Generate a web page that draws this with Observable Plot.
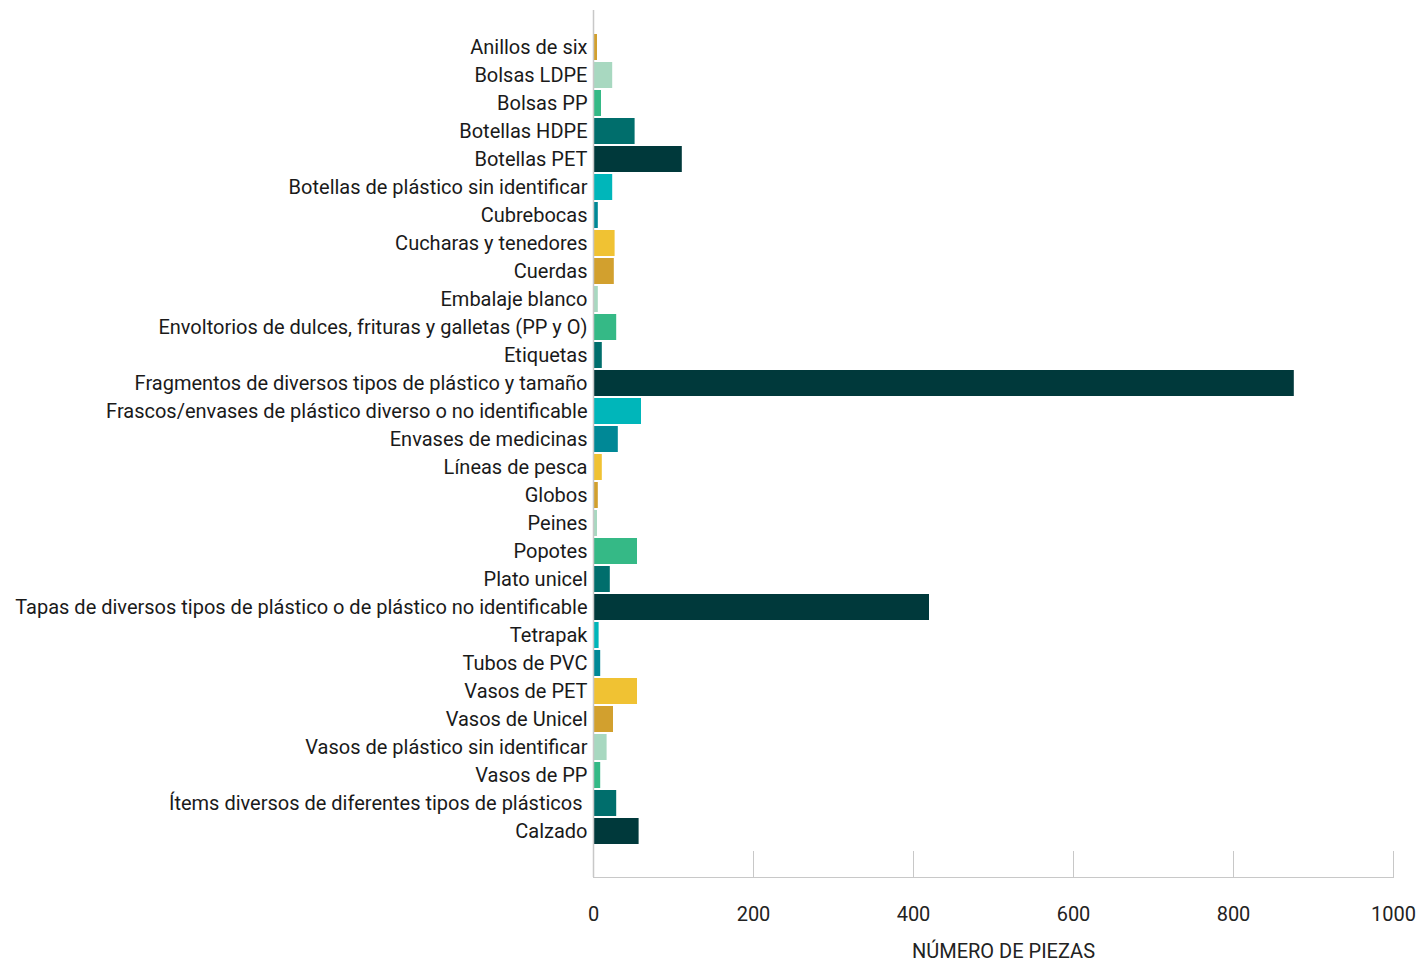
<!DOCTYPE html>
<html><head><meta charset="utf-8">
<script src="https://cdn.jsdelivr.net/npm/d3@7"></script>
<script src="https://cdn.jsdelivr.net/npm/@observablehq/plot@0.6"></script>
<style>body{margin:0;background:#fff;}</style>
</head><body><div id="chart"></div>
<script>
const categories = [
  "Anillos de six",
  "Bolsas LDPE",
  "Bolsas PP",
  "Botellas HDPE",
  "Botellas PET",
  "Botellas de plástico sin identificar",
  "Cubrebocas",
  "Cucharas y tenedores",
  "Cuerdas",
  "Embalaje blanco",
  "Envoltorios de dulces, frituras y galletas (PP y O)",
  "Etiquetas",
  "Fragmentos de diversos tipos de plástico y tamaño",
  "Frascos/envases de plástico diverso o no identificable",
  "Envases de medicinas",
  "Líneas de pesca",
  "Globos",
  "Peines",
  "Popotes",
  "Plato unicel",
  "Tapas de diversos tipos de plástico o de plástico no identificable",
  "Tetrapak",
  "Tubos de PVC",
  "Vasos de PET",
  "Vasos de Unicel",
  "Vasos de plástico sin identificar",
  "Vasos de PP",
  "Ítems diversos de diferentes tipos de plásticos\u00a0",
  "Calzado"
];
const values = [5, 24, 10, 52, 111, 24, 6, 27, 26, 6, 29, 11, 876, 60, 31, 11, 6, 5, 55, 21, 420, 7, 9, 55, 25, 17, 9, 29, 57];
const palette = ["#D2A02E", "#A8D8C0", "#35B986", "#006E6C", "#00393B", "#00B6BA", "#008896", "#F0C233"];
const xTicks = [0, 200, 400, 600, 800, 1000];
const xTitle = "NÚMERO DE PIEZAS";

const data = categories.map((c, i) => ({category: c, value: values[i]}));
const colorRange = categories.map((c, i) => palette[i % palette.length]);

const chart = Plot.plot({
  width: 1424, height: 962,
  marginLeft: 593, marginRight: 31, marginTop: 10, marginBottom: 85,
  style: {fontFamily: "Roboto", background: "#fff"},
  x: {domain: [0, 1000]},
  y: {domain: categories, range: [32, 845], paddingInner: 0.08, paddingOuter: 0},
  color: {domain: categories, range: colorRange},
  marks: [
    Plot.barX(data, {y: "category", x: "value", fill: "category"}),
    Plot.ruleX([0], {stroke: "#c8c8c8", strokeWidth: 1.5}),
    Plot.frame({anchor: "bottom", stroke: "#c8c8c8"}),
    Plot.axisX({ticks: xTicks.slice(1), tickSize: 26, dy: -26, text: null, stroke: "#c8c8c8", label: null}),
    Plot.axisX({ticks: xTicks, tickSize: 0, tickPadding: 29, fontSize: 20, fill: "#222", tickFormat: d3.format("d"), label: null}),
    Plot.text([xTitle], {text: d => d, frameAnchor: "bottom", lineAnchor: "middle", dy: 74, dx: 10, fontSize: 20, fill: "#222"}),
    Plot.axisY({tickSize: 0, tickPadding: 6, fontSize: 20, fill: "#1a1a1a", label: null})
  ]
});
document.getElementById("chart").appendChild(chart);
</script>
</body></html>
